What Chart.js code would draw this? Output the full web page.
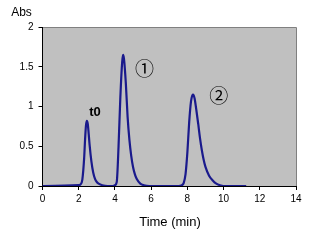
<!DOCTYPE html>
<html><head><meta charset="utf-8">
<script src="https://cdn.jsdelivr.net/npm/chart.js@4/dist/chart.umd.min.js"></script>
<style>html,body{margin:0;padding:0;background:#fff}#wrap{width:310px;height:241px}</style>
</head><body><div id="wrap"><canvas id="c" width="310" height="241"></canvas></div>
<script>
const times = [0, 2.0, 2.1, 2.2, 2.3, 2.35, 2.4, 2.45, 2.5, 2.55, 2.6, 2.7, 2.8, 2.9, 3.0, 3.1, 3.3, 3.6, 3.9,
  4.0, 4.1, 4.2, 4.3, 4.4, 4.45, 4.5, 4.6, 4.7, 4.8, 4.9, 5.0, 5.1, 5.2, 5.4, 5.6, 5.9,
  7.5, 7.7, 7.8, 7.9, 8.0, 8.1, 8.2, 8.3, 8.35, 8.4, 8.5, 8.6, 8.7, 8.8, 8.9, 9.0, 9.2, 9.4, 9.6, 9.8, 10.0, 10.3, 11.25];
const absorbance = [0, 0.01, 0.02, 0.08, 0.35, 0.58, 0.76, 0.82, 0.78, 0.66, 0.52, 0.31, 0.17, 0.09, 0.05, 0.03, 0.01, 0, 0,
  0.01, 0.05, 0.5, 1.12, 1.56, 1.65, 1.6, 1.3, 0.87, 0.58, 0.38, 0.24, 0.15, 0.09, 0.03, 0.01, 0,
  0, 0.01, 0.04, 0.15, 0.42, 0.8, 1.06, 1.15, 1.14, 1.1, 0.95, 0.78, 0.6, 0.45, 0.33, 0.24, 0.13, 0.07, 0.03, 0.01, 0, 0, 0];
const xTicks = [0, 2, 4, 6, 8, 10, 12, 14];
const yTicks = [0, 0.5, 1, 1.5, 2];
const noteTexts = ['t0', '①', '②'];
const noteX = [2.9, 5.64, 9.74];
const noteY = [0.93, 1.49, 1.15];

const points = times.map((t, i) => ({x: t, y: absorbance[i]}));

const deco = {
  id: 'deco',
  beforeDraw(chart) {
    const {ctx, chartArea: a} = chart;
    ctx.save();
    ctx.fillStyle = '#c0c0c0';
    ctx.fillRect(a.left, a.top, a.right - a.left, a.bottom - a.top);
    ctx.strokeStyle = '#808080';
    ctx.lineWidth = 1;
    ctx.beginPath();
    ctx.moveTo(a.left, a.top + 0.5);
    ctx.lineTo(a.right + 0.5, a.top + 0.5);
    ctx.lineTo(a.right + 0.5, a.bottom);
    ctx.stroke();
    ctx.restore();
  },
  afterDraw(chart) {
    const {ctx, scales} = chart;
    ctx.save();
    ctx.fillStyle = '#000';
    ctx.textAlign = 'center';
    ctx.textBaseline = 'middle';
    noteTexts.forEach((t, i) => {
      ctx.font = i === 0 ? 'bold 13px "Liberation Sans"' : '19px "Noto Sans CJK JP"';
      ctx.fillText(t, scales.x.getPixelForValue(noteX[i]), scales.y.getPixelForValue(noteY[i]) + (i === 0 ? 0 : 1));
    });
    ctx.font = '12px "Liberation Sans"';
    ctx.fillText('Abs', 21.5, 13);
    ctx.font = '13px "Liberation Sans"';
    ctx.fillText('Time (min)', 170, 222);
    ctx.restore();
  }
};

new Chart(document.getElementById('c'), {
  type: 'line',
  data: {datasets: [{data: points, borderColor: '#1a1a8c', borderWidth: 2.2, pointRadius: 0, fill: false, cubicInterpolationMode: 'monotone'}]},
  options: {
    responsive: false, animation: false, devicePixelRatio: 1,
    layout: {padding: {left: 0, right: 14, top: 27, bottom: 0}},
    plugins: {legend: {display: false}, tooltip: {enabled: false}},
    scales: {
      x: {type: 'linear', min: 0, max: 14,
        afterBuildTicks: s => { s.ticks = xTicks.map(v => ({value: v})); },
        afterFit: s => { s.height = 55; },
        grid: {drawOnChartArea: false, drawTicks: true, tickLength: 4, color: '#000'},
        border: {color: '#000', width: 1},
        ticks: {color: '#000', font: {family: 'Liberation Sans', size: 10}, padding: 3, maxRotation: 0, callback: v => String(v)}
      },
      y: {type: 'linear', min: 0, max: 2,
        afterBuildTicks: s => { s.ticks = yTicks.map(v => ({value: v})); },
        afterFit: s => { s.width = 42.5; },
        grid: {drawOnChartArea: false, drawTicks: true, tickLength: 4, color: '#000'},
        border: {color: '#000', width: 1},
        ticks: {color: '#000', font: {family: 'Liberation Sans', size: 10}, padding: 5, callback: v => String(v)}
      }
    }
  },
  plugins: [deco]
});
</script></body></html>
